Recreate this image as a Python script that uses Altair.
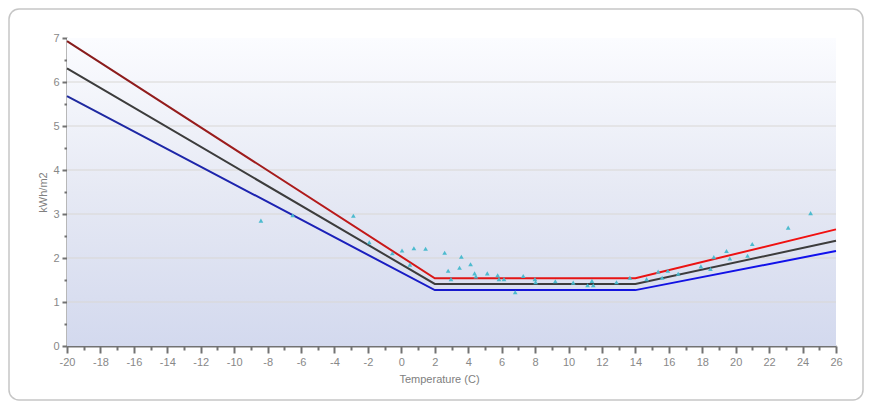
import altair as alt
import pandas as pd

# ---- data ----
line_temp = [-20, 2, 14, 26]
upper_kwh = [6.93, 1.54, 1.54, 2.65]
mid_kwh = [6.31, 1.41, 1.41, 2.39]
lower_kwh = [5.68, 1.27, 1.27, 2.16]

obs_temp = [-8.4, -6.5, -2.87, -1.92, -0.54, 0.04, 0.75, 1.45, 0.51, 2.59, 2.80, 2.97,
            3.59, 3.48, 4.14, 4.38, 4.46, 5.14, 5.76, 5.84, 6.14, 6.81, 7.29, 7.99,
            8.03, 9.21, 10.28, 11.14, 11.40, 11.48, 12.87, 13.67, 14.67, 15.36, 15.60,
            15.94, 16.56, 17.92, 18.49, 18.69, 19.45, 19.65, 20.71, 20.99, 23.14, 24.48]
obs_kwh = [2.85, 2.97, 2.96, 2.36, 2.11, 2.17, 2.22, 2.21, 1.85, 2.12, 1.71, 1.52,
           2.03, 1.78, 1.86, 1.65, 1.58, 1.65, 1.61, 1.52, 1.52, 1.22, 1.59, 1.52,
           1.45, 1.47, 1.44, 1.38, 1.48, 1.38, 1.45, 1.55, 1.52, 1.69, 1.55,
           1.71, 1.64, 1.81, 1.75, 2.02, 2.16, 1.99, 2.05, 2.32, 2.69, 3.02]

x_ticks = list(range(-20, 27))
y_ticks = [i / 2 for i in range(0, 15)]
grid_levels = [1, 2, 3, 4, 5, 6]

W, H = 769, 308

lines_df = pd.DataFrame({
    "temp": line_temp * 3,
    "kwh": upper_kwh + mid_kwh + lower_kwh,
    "series": ["upper"] * 4 + ["mid"] * 4 + ["lower"] * 4,
})
obs_df = pd.DataFrame({"temp": obs_temp, "kwh": obs_kwh})
grid_df = pd.DataFrame({"level": grid_levels})

FONT = "Liberation Sans"
AX = "#727272"

x_scale = alt.Scale(domain=[-20, 26], nice=False, zero=False)
y_scale = alt.Scale(domain=[0, 7], nice=False)

x_axis = alt.Axis(
    values=x_ticks,
    labelExpr="datum.value % 2 == 0 ? '' + datum.value : ''",
    tickSize={"condition": {"test": "datum.value % 2 == 0", "value": 7}, "value": 4},
    tickWidth=2, tickColor=AX, domainColor=AX, domainWidth=2,
    labelColor="#888888", labelFont=FONT, labelFontSize=11, labelPadding=3,
    labelFlush=False, labelOverlap=False, grid=False,
    title="Temperature (C)", titleFont=FONT, titleFontSize=11, titleFontWeight="normal",
    titleColor="#808080", titleX=372, titleY=27, titleBaseline="top", titleAnchor="middle",
)
y_axis = alt.Axis(
    values=y_ticks,
    labelExpr="datum.value % 1 == 0 ? '' + datum.value : ''",
    tickSize={"condition": {"test": "datum.value % 1 == 0", "value": 5}, "value": 3},
    tickWidth=2, tickColor=AX, domainColor=AX, domainWidth=2,
    labelColor="#888888", labelFont=FONT, labelFontSize=11, labelPadding=3,
    labelFlush=False, labelOverlap=False, grid=False,
    title="kWh/m2", titleFont=FONT, titleFontSize=11, titleFontWeight="normal",
    titleColor="#808080", titlePadding=4,
)

X = alt.X("temp:Q", scale=x_scale, axis=x_axis)
Y = alt.Y("kwh:Q", scale=y_scale, axis=y_axis)

bg = alt.Chart(alt.Data(values=[{}])).mark_rect(
    color=alt.Gradient(
        gradient="linear", x1=0, x2=0, y1=0, y2=1,
        stops=[alt.GradientStop(color="#fbfcff", offset=0),
               alt.GradientStop(color="#e6e9f4", offset=0.5),
               alt.GradientStop(color="#d3d9ee", offset=1)],
    )
).encode(x=alt.value(0), x2=alt.value(W), y=alt.value(0), y2=alt.value(H))

grid = alt.Chart(grid_df).mark_rule(color="#d9d7d4", strokeWidth=1).encode(
    y=alt.Y("level:Q", scale=y_scale, axis=y_axis),
    x=alt.value(0), x2=alt.value(W),
)


def line_layer(name, color, width=2):
    return alt.Chart(lines_df).transform_filter(
        alt.datum.series == name
    ).mark_line(color=color, strokeWidth=width).encode(
        x=X, y=Y, order="temp:Q",
    )


red_grad = alt.Gradient(
    gradient="linear", x1=0, x2=1, y1=0, y2=0,
    stops=[alt.GradientStop(color="#861c1c", offset=0),
           alt.GradientStop(color="#a01c1c", offset=0.25),
           alt.GradientStop(color="#e01616", offset=0.5),
           alt.GradientStop(color="#f21010", offset=1)],
)
blue_grad = alt.Gradient(
    gradient="linear", x1=0, x2=1, y1=0, y2=0,
    stops=[alt.GradientStop(color="#1f2a9e", offset=0),
           alt.GradientStop(color="#1c22b4", offset=0.3),
           alt.GradientStop(color="#1515d8", offset=0.6),
           alt.GradientStop(color="#1010ee", offset=1)],
)

upper = line_layer("upper", red_grad)
mid = line_layer("mid", "#3c3c3c")
lower = line_layer("lower", blue_grad)

points = alt.Chart(obs_df).mark_point(
    shape="triangle-up", filled=True, size=22, color="#45b8cc", opacity=0.95
).encode(x=X, y=Y)

frame = alt.Chart(alt.Data(values=[{}])).mark_rect(
    filled=False, stroke="#c6c6c6", strokeWidth=1.5, cornerRadius=10
).encode(x=alt.value(-58), x2=alt.value(796), y=alt.value(-29), y2=alt.value(362))

chart = alt.layer(bg, grid, upper, mid, lower, points, frame).properties(
    width=W, height=H,
    autosize=alt.AutoSizeParams(type="none"),
    padding={"left": 59, "top": 30, "right": 29, "bottom": 55},
    background="white",
).configure_view(strokeWidth=0)

chart.save("out.html", embed_options={"renderer": "svg", "actions": False})
